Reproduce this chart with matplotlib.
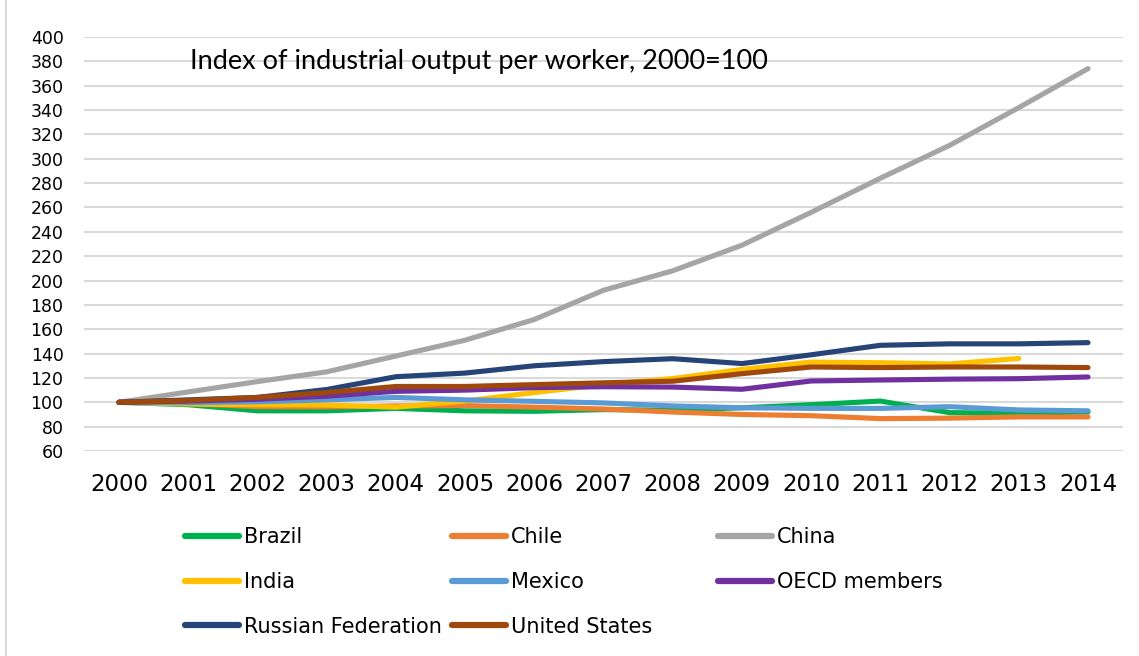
import matplotlib.pyplot as plt
from matplotlib.lines import Line2D

years = list(range(2000, 2015))

brazil = [100, 98, 93, 93, 95, 93, 92.6, 94, 93.5, 95.5, 98, 101, 91.5, 91, 92]
chile = [100, 99, 96.4, 96.2, 97, 97.3, 96, 94.5, 92, 90, 89, 86.6, 87, 88, 88]
china = [100, 108.5, 117, 125, 138, 151, 168, 192, 208, 229, 256, 284, 311, 342, 374]
india = [100, 98.6, 98, 97.8, 96, 101, 108, 114.5, 119.5, 127, 133, 132.5, 131.5, 136]
mexico = [100, 99.7, 100.5, 102, 104, 102, 100.8, 99.5, 97, 95.5, 95, 95, 96.4, 93.7, 93]
oecd = [100, 101, 102.5, 105, 109, 110, 112, 112.8, 112.5, 110.7, 117.5, 118.3, 119, 119.4, 120.8]
russia = [100, 102, 104, 110.5, 121, 124, 130, 133.4, 135.8, 131.8, 139, 146.8, 148, 148, 149]
usa = [100, 101.5, 104, 108, 113, 113, 114.5, 116, 117.3, 123.5, 129, 128.5, 129, 129, 128.5]

series = [
    ('Brazil', brazil, '#00B050'),
    ('Chile', chile, '#ED7D31'),
    ('China', china, '#A5A5A5'),
    ('India', india, '#FFC000'),
    ('Mexico', mexico, '#5B9BD5'),
    ('OECD members', oecd, '#7030A0'),
    ('Russian Federation', russia, '#264478'),
    ('United States', usa, '#9E480E'),
]

W, H = 1139, 656
fig = plt.figure(figsize=(W / 100, H / 100), dpi=100)
ax = fig.add_axes([84.4 / W, 1 - 451 / H, (1122.6 - 84.4) / W, (451 - 37) / H])

lines = {}
for name, vals, col in series:
    ln, = ax.plot(years[:len(vals)], vals, color=col, lw=3.7,
                  solid_capstyle='round', solid_joinstyle='round', zorder=3)
    lines[name] = ln

ax.set_xlim(1999.5, 2014.5)
ax.set_ylim(60, 400)
ax.set_yticks(range(60, 401, 20))
ax.set_xticks(years)
ax.set_xticklabels([str(y) for y in years], fontsize=16.5, family='DejaVu Sans')
ax.set_yticklabels([str(v) for v in range(60, 401, 20)], fontsize=12.5, family='DejaVu Sans')
ax.grid(axis='y', color='#D9D9D9', lw=1.5, zorder=0)
ax.tick_params(length=0)
ax.tick_params(axis='y', pad=15)
ax.tick_params(axis='x', pad=16)
for s in ax.spines.values():
    s.set_visible(False)

fig.text(190 / W, 1 - 61 / H, 'Index of industrial output per worker, 2000=100',
         fontsize=19.5, family='Lato', va='center', ha='left')

# legend, three equal-width columns like the original
cols = [['Brazil', 'India', 'Russian Federation'],
        ['Chile', 'Mexico', 'United States'],
        ['China', 'OECD members']]
col_x = [185, 452, 718]
for names, xpx in zip(cols, col_x):
    handles = [Line2D([], [], color=lines[n].get_color(), lw=4.5, solid_capstyle='round')
               for n in names]
    fig.legend(handles, names, loc='upper left', bbox_to_anchor=(xpx / W, 1 - 527 / H),
               frameon=False, borderpad=0, borderaxespad=0, handlelength=2.6,
               handletextpad=0.25, labelspacing=1.19,
               prop={'family': 'DejaVu Sans', 'size': 15})

fig.add_artist(Line2D([6 / W, 6 / W], [0, 1], color='#D9D9D9', lw=1.5))

fig.savefig('out.png', dpi=100)
